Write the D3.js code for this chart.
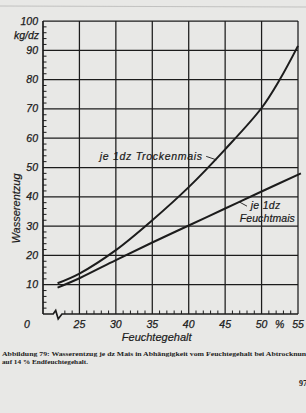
<!DOCTYPE html>
<html>
<head>
<meta charset="utf-8">
<script src="https://cdn.jsdelivr.net/npm/d3@7"></script>
<style>
  html, body { margin: 0; padding: 0; background: #e8e8e6; }
  svg { display: block; }
  .tick-lbl { font-family: "Liberation Sans", Arial, sans-serif; font-style: italic; font-size: 10.5px; fill: #1a1a1a; stroke: #1a1a1a; stroke-width: 0.25px; }
  .ax-title { font-family: "Liberation Sans", Arial, sans-serif; font-style: italic; font-size: 11px; fill: #1a1a1a; stroke: #1a1a1a; stroke-width: 0.2px; }
  .series-lbl { font-family: "Liberation Sans", Arial, sans-serif; font-style: italic; font-size: 10.5px; fill: #1a1a1a; stroke: #1a1a1a; stroke-width: 0.2px; letter-spacing: 0.7px; }
  .caption { font-family: "Liberation Serif", "Times New Roman", serif; font-weight: bold; font-size: 7px; fill: #222; }
</style>
</head>
<body>
<div id="chart"></div>
<script>
/* ── DATA ── */
const trockenX   = [22, 25, 30, 35, 40, 45, 50, 52.5, 55];
const trocken    = [10.5, 13.8, 21.8, 32, 43.3, 56.2, 70.3, 80, 91.5];
const feuchtX    = [22, 25, 30, 35, 40, 45, 50, 55.4];
const feucht     = [9, 12.2, 18.4, 24.4, 30.2, 36, 41.8, 48];
const xTicks     = [25, 30, 35, 40, 45, 50, 55];
const yTicks     = [10, 20, 30, 40, 50, 60, 70, 80, 90, 100];

const W = 306, H = 413;
const svg = d3.select('#chart').append('svg').attr('width', W).attr('height', H);

// paper
svg.append('rect').attr('width', W).attr('height', H).attr('fill', '#e8e8e6');
svg.append('line').attr('x1', 0).attr('x2', W).attr('y1', 6).attr('y2', 7)
  .attr('stroke', '#b8b8b6').attr('stroke-width', 0.8);

const x = d3.scaleLinear().domain([20, 55]).range([43, 298]);
const y = d3.scaleLinear().domain([0, 100]).range([314, 21]);

const ink = '#1c1c1c';
const g = svg.append('g');

// grid
g.selectAll('.vgrid').data(xTicks).enter().append('line')
  .attr('x1', d => x(d)).attr('x2', d => x(d))
  .attr('y1', y(0)).attr('y2', y(100))
  .attr('stroke', ink).attr('stroke-width', 1.25);
g.selectAll('.hgrid').data(yTicks).enter().append('line')
  .attr('x1', x(20)).attr('x2', x(55))
  .attr('y1', d => y(d)).attr('y2', d => y(d))
  .attr('stroke', ink).attr('stroke-width', 1.25);

// left axis
g.append('line').attr('x1', x(20)).attr('x2', x(20)).attr('y1', y(0)).attr('y2', y(100))
  .attr('stroke', ink).attr('stroke-width', 1.7);

// y minor ticks every 2
const yMinor = d3.range(2, 100, 2).filter(v => v % 10 !== 0);
g.selectAll('.ym').data(yMinor).enter().append('line')
  .attr('x1', x(20)).attr('x2', x(20) + 3.5)
  .attr('y1', d => y(d)).attr('y2', d => y(d))
  .attr('stroke', ink).attr('stroke-width', 1);

// bottom axis with break
const bx0 = x(20), bxa = x(21.4), bxb = x(22.6);
g.append('path')
  .attr('d', `M${bx0},${y(0)}H${bxa}L${bxa + 2.5},${y(0) - 3.5}L${bxa + 5},${y(0) + 5}L${bxb},${y(0)}H${x(55)}`)
  .attr('fill', 'none').attr('stroke', ink).attr('stroke-width', 1.7);

// x minor ticks every 1
const xMinor = d3.range(23, 55, 1).filter(v => v % 5 !== 0);
g.selectAll('.xm').data(xMinor).enter().append('line')
  .attr('x1', d => x(d)).attr('x2', d => x(d))
  .attr('y1', y(0)).attr('y2', y(0) - 3.5)
  .attr('stroke', ink).attr('stroke-width', 1);

// curves
const line = d3.line().x(d => x(d[0])).y(d => y(d[1])).curve(d3.curveCatmullRom);
g.append('path').datum(d3.zip(trockenX, trocken)).attr('d', line)
  .attr('fill', 'none').attr('stroke', ink).attr('stroke-width', 2);
g.append('path').datum(d3.zip(feuchtX, feucht)).attr('d', line)
  .attr('fill', 'none').attr('stroke', ink).attr('stroke-width', 2);

// y tick labels
svg.selectAll('.ylbl').data(yTicks).enter().append('text')
  .attr('class', 'tick-lbl').attr('text-anchor', 'end')
  .attr('x', x(20) - 5).attr('y', d => y(d) + 3.5)
  .text(d => d);
svg.append('text').attr('class', 'tick-lbl').attr('text-anchor', 'end')
  .attr('x', x(20) - 4).attr('y', y(95) + 3.5).text('kg/dz');

// x tick labels
svg.selectAll('.xlbl').data(xTicks).enter().append('text')
  .attr('class', 'tick-lbl').attr('text-anchor', 'middle')
  .attr('x', d => x(d)).attr('y', y(0) + 14)
  .text(d => d);
svg.append('text').attr('class', 'tick-lbl').attr('text-anchor', 'middle')
  .attr('x', x(17.8)).attr('y', y(0) + 14).text('0');
svg.append('text').attr('class', 'tick-lbl').attr('text-anchor', 'middle')
  .attr('x', x(52.5)).attr('y', y(0) + 14).text('%');

// axis titles
svg.append('text').attr('class', 'ax-title').attr('text-anchor', 'middle')
  .attr('x', x(35.6)).attr('y', y(0) + 27).text('Feuchtegehalt');
svg.append('text').attr('class', 'ax-title').attr('text-anchor', 'middle')
  .attr('transform', `translate(20,${y(36)}) rotate(-90)`).text('Wasserentzug');

// series labels
svg.append('text').attr('class', 'series-lbl')
  .attr('x', x(27.8)).attr('y', y(52.5)).text('je 1dz Trockenmais');
svg.append('line').attr('x1', x(42.4)).attr('y1', y(53.8)).attr('x2', x(43.8)).attr('y2', y(52.6))
  .attr('stroke', ink).attr('stroke-width', 0.9);
svg.append('text').attr('class', 'series-lbl').style('letter-spacing', '0.3px')
  .attr('x', x(48.5)).attr('y', y(36)).text('je 1dz');
svg.append('text').attr('class', 'series-lbl').style('letter-spacing', '0.1px')
  .attr('x', x(47)).attr('y', y(31.5)).text('Feuchtmais');
svg.append('line').attr('x1', x(46.9)).attr('y1', y(38.3)).attr('x2', x(48)).attr('y2', y(36.8))
  .attr('stroke', ink).attr('stroke-width', 0.9);

// caption
svg.append('text').attr('class', 'caption').attr('x', 2).attr('y', 355.5)
  .attr('textLength', 308).attr('lengthAdjust', 'spacingAndGlyphs')
  .text('Abbildung 79: Wasserentzug je dz Mais in Abhängigkeit vom Feuchtegehalt bei Abtrocknung');
svg.append('text').attr('class', 'caption').attr('x', 2).attr('y', 363.5)
  .attr('textLength', 86).attr('lengthAdjust', 'spacingAndGlyphs')
  .text('auf 14 % Endfeuchtegehalt.');
svg.append('text').attr('class', 'caption').attr('x', 299).attr('y', 386)
  .style('font-size', '8px').text('97');
</script>
</body>
</html>
